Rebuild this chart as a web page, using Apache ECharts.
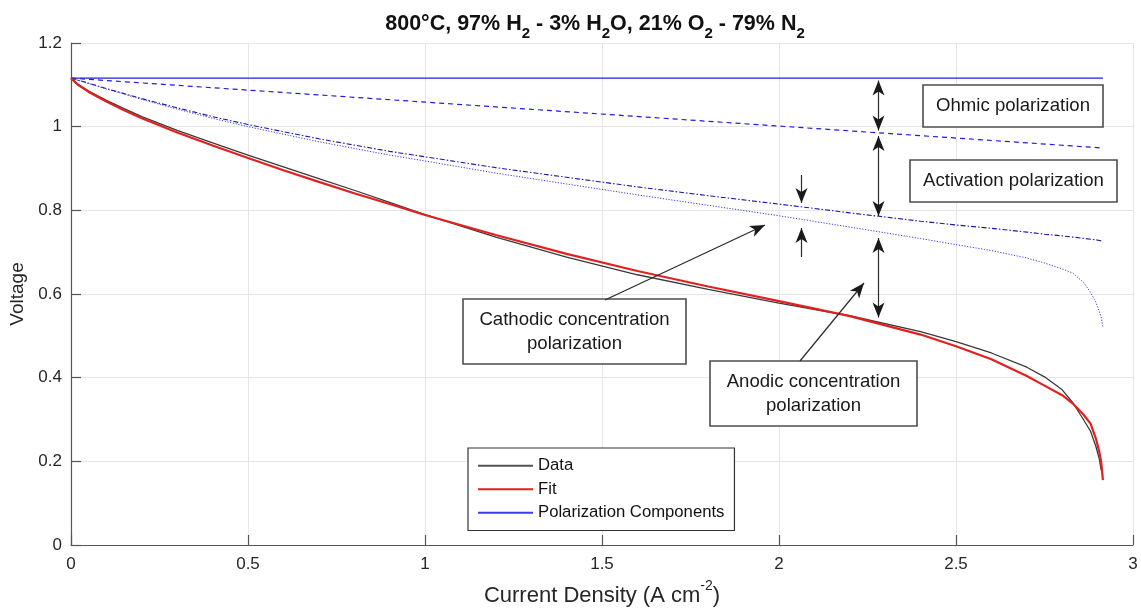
<!DOCTYPE html>
<html>
<head>
<meta charset="utf-8">
<script src="https://cdn.jsdelivr.net/npm/echarts@6/dist/echarts.min.js"></script>
<style>
  html, body { margin: 0; padding: 0; background: #ffffff; }
  #chart { width: 1141px; height: 608px; }
</style>
</head>
<body>
<div id="chart"></div>
<script>
// Current density grid (A cm^-2) shared by the curved lines
const current = [0, 0.02, 0.05, 0.1, 0.15, 0.2, 0.3, 0.4, 0.5, 0.6, 0.7, 0.8, 0.9, 1.0,
  1.2, 1.4, 1.6, 1.8, 2.0, 2.2, 2.4, 2.5, 2.6, 2.7, 2.75, 2.8, 2.83, 2.86, 2.88, 2.895,
  2.905, 2.91, 2.915];

// Straight components only need their end points
const lineCurrent = [0, 2.915];
const openCircuitV = [1.116, 1.116];
const afterOhmicV = [1.116, 0.949];

// After activation losses
const afterActivationV = [1.116, 1.111, 1.104, 1.091, 1.079, 1.067, 1.045, 1.024, 1.005,
  0.988, 0.971, 0.956, 0.941, 0.928, 0.902, 0.879, 0.856, 0.835, 0.815, 0.794, 0.774, 0.765,
  0.757, 0.748, 0.743, 0.739, 0.736, 0.733, 0.731, 0.7295, 0.728, 0.727, 0.726];

// After cathodic concentration losses
const afterCathodicV = [1.116, 1.111, 1.103, 1.090, 1.078, 1.065, 1.042, 1.020, 1.000,
  0.982, 0.964, 0.948, 0.932, 0.918, 0.889, 0.863, 0.837, 0.812, 0.787, 0.760, 0.7325, 0.718,
  0.704, 0.686, 0.674, 0.660, 0.650, 0.628, 0.604, 0.580, 0.558, 0.545, 0.522];

// Model fit
const fitV = [1.116, 1.100, 1.083, 1.060, 1.039, 1.020, 0.986, 0.955, 0.925, 0.896, 0.868,
  0.841, 0.815, 0.789, 0.741, 0.696, 0.655, 0.618, 0.583, 0.547, 0.503, 0.475, 0.444, 0.404,
  0.381, 0.358, 0.338, 0.312, 0.290, 0.255, 0.222, 0.200, 0.155];

// Measured polarization curve
const dataV = [1.116, 1.101, 1.085, 1.063, 1.043, 1.024, 0.991, 0.961, 0.932, 0.904, 0.876,
  0.848, 0.819, 0.790, 0.736, 0.688, 0.646, 0.611, 0.578, 0.548, 0.510, 0.486, 0.459, 0.425,
  0.402, 0.371, 0.340, 0.300, 0.272, 0.236, 0.205, 0.179, null];

const FONT = '"Liberation Sans", Arial, Helvetica, sans-serif';
const TEXT = '#262626';
const BLUE = '#1f1fdc';
const RED = '#e41f1f';
const GREY = '#3a3a3a';

const pairs = (xs, ys) => xs.map((x, i) => [x, ys[i]]);

const chart = echarts.init(document.getElementById('chart'));

// Arrow helpers for the pixel-space annotations
function head(tx, ty, fx, fy) {
  const dx = tx - fx, dy = ty - fy;
  const len = Math.hypot(dx, dy);
  const ux = dx / len, uy = dy / len;
  const px = -uy, py = ux;
  const L = 15, W = 6, N = 4;
  return {
    type: 'polygon', z: 100, silent: true,
    shape: { points: [
      [tx, ty],
      [tx - ux * L + px * W, ty - uy * L + py * W],
      [tx - ux * (L - N), ty - uy * (L - N)],
      [tx - ux * L - px * W, ty - uy * L - py * W]
    ] },
    style: { fill: '#1a1a1a' }
  };
}
function shaft(x1, y1, x2, y2) {
  return { type: 'line', z: 100, silent: true,
    shape: { x1, y1, x2, y2 }, style: { stroke: '#2a2a2a', lineWidth: 1.2 } };
}
function arrow(fx, fy, tx, ty) {
  return [shaft(fx, fy, tx, ty), head(tx, ty, fx, fy)];
}
function doubleArrow(x, y1, y2) {
  return [shaft(x, y1, x, y2), head(x, y1, x, y2), head(x, y2, x, y1)];
}
function box(x, y, w, h, lines, lineH) {
  const els = [{ type: 'rect', z: 90, silent: true,
    shape: { x, y, width: w, height: h },
    style: { fill: '#ffffff', stroke: '#4d4d4d', lineWidth: 1.6 } }];
  lines.forEach((t, i) => {
    els.push({ type: 'text', z: 95, silent: true,
      x: x + w / 2, y: y + h / 2 + (i - (lines.length - 1) / 2) * lineH,
      style: { text: t, fill: '#1a1a1a', font: '18.6px ' + FONT, align: 'center', verticalAlign: 'middle' } });
  });
  return els;
}

const graphics = [
  // title with subscripts
  { type: 'text', z: 100, silent: true, x: 595, y: 13,
    style: {
      text: '{n|800°C, 97% H}{s|2}{n| - 3% H}{s|2}{n|O, 21% O}{s|2}{n| - 79% N}{s|2}',
      align: 'center', verticalAlign: 'top',
      rich: {
        n: { fontFamily: FONT, fontSize: 21.5, fontWeight: 'bold', fill: '#111', lineHeight: 22, verticalAlign: 'top' },
        s: { fontFamily: FONT, fontSize: 15, fontWeight: 'bold', fill: '#111', lineHeight: 28, verticalAlign: 'bottom' }
      }
    } },
  ...box(923, 85, 180, 42, ['Ohmic polarization'], 0),
  ...box(910, 160, 207, 42, ['Activation polarization'], 0),
  ...box(463, 299, 223, 65, ['Cathodic concentration', 'polarization'], 24),
  ...box(710, 361, 207, 65, ['Anodic concentration', 'polarization'], 24),
  ...doubleArrow(878.5, 80.5, 130.5),
  ...doubleArrow(878.5, 136, 216),
  ...doubleArrow(878.5, 238, 317.5),
  ...arrow(801.5, 175, 801.5, 203),
  ...arrow(801.5, 257, 801.5, 228),
  ...arrow(605, 300, 765, 225),
  ...arrow(800, 361, 864, 283)
];

const axisCommon = {
  type: 'value',
  nameLocation: 'middle',
  axisLine: { show: true, onZero: false, lineStyle: { color: '#555', width: 1.2 } },
  axisTick: { show: true, inside: true, length: 10, lineStyle: { color: '#555', width: 1.2 } },
  axisLabel: { color: TEXT, fontSize: 17, fontFamily: FONT },
  splitLine: { show: true, lineStyle: { color: '#e6e6e6', width: 1 } }
};

chart.setOption({
  animation: false,
  backgroundColor: '#ffffff',
  grid: { left: 71, right: 8, top: 43, bottom: 63, containLabel: false, outerBoundsMode: 'none' },
  xAxis: Object.assign({}, axisCommon, {
    min: 0, max: 3, interval: 0.5,
    name: '{n|Current Density (A cm}{p|-2}{n|)}',
    nameGap: 34,
    nameTextStyle: { rich: {
      n: { fontFamily: FONT, fontSize: 22, color: TEXT, lineHeight: 28, verticalAlign: 'bottom' },
      p: { fontFamily: FONT, fontSize: 14, color: TEXT, lineHeight: 14, verticalAlign: 'top' }
    } },
    axisLabel: Object.assign({}, axisCommon.axisLabel, { margin: 11 })
  }),
  yAxis: Object.assign({}, axisCommon, {
    min: 0, max: 1.2, interval: 0.2,
    name: 'Voltage',
    nameGap: 43,
    nameTextStyle: { fontFamily: FONT, fontSize: 19, color: TEXT },
    axisLabel: Object.assign({}, axisCommon.axisLabel, { margin: 9 })
  }),
  legend: {
    data: [
      { name: 'Data', icon: 'rect', itemStyle: { color: '#555555', borderWidth: 0 } },
      { name: 'Fit', icon: 'rect', itemStyle: { color: RED, borderWidth: 0 } },
      { name: 'Polarization Components', icon: 'rect', itemStyle: { color: '#3c3ce6', borderWidth: 0 } }
    ],
    orient: 'vertical',
    left: 468, top: 448,
    itemWidth: 55, itemHeight: 2, itemGap: 4,
    itemStyle: { borderWidth: 0 },
    padding: [8, 10, 8, 10],
    borderColor: '#333', borderWidth: 1.2,
    backgroundColor: '#ffffff',
    textStyle: { fontFamily: FONT, fontSize: 16.7, color: '#111', lineHeight: 19.5 },
    selectedMode: false
  },
  graphic: { elements: graphics },
  series: [
    { name: 'Polarization Components', type: 'line', data: pairs(lineCurrent, openCircuitV),
      symbol: 'none', lineStyle: { color: BLUE, width: 1.2 }, itemStyle: { color: BLUE } },
    { name: 'Ohmic', type: 'line', data: pairs(lineCurrent, afterOhmicV),
      symbol: 'none', lineStyle: { color: BLUE, width: 1.2, type: [5, 4] } },
    { name: 'Activation', type: 'line', data: pairs(current, afterActivationV),
      symbol: 'none',
      lineStyle: { color: '#1a1aa8', width: 1.1, type: [5, 2, 1.5, 2] } },
    { name: 'Cathodic', type: 'line', data: pairs(current, afterCathodicV),
      symbol: 'none',
      lineStyle: { color: '#3a3ae0', width: 1, type: [1.2, 1.6] } },
    { name: 'Data', type: 'line', data: pairs(current, dataV),
      symbol: 'none', connectNulls: false,
      lineStyle: { color: GREY, width: 1.3 }, itemStyle: { color: GREY } },
    { name: 'Fit', type: 'line', data: pairs(current, fitV),
      symbol: 'none',
      lineStyle: { color: RED, width: 2.2 }, itemStyle: { color: RED } }
  ]
});
</script>
</body>
</html>
